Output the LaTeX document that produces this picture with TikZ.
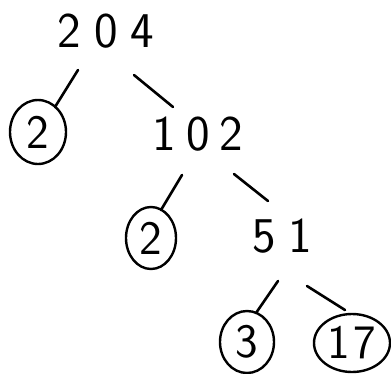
\documentclass[tikz,border=0pt]{standalone}
\usetikzlibrary{shapes.geometric}
\begin{document}
\begin{tikzpicture}[x=1pt,y=1pt,
  num/.style={inner sep=0pt, font=\sffamily\fontsize{50}{50}\selectfont},
  ring/.style={ellipse, draw, line width=2.4pt, inner sep=0pt, font=\sffamily\fontsize{48}{48}\selectfont},
  edge/.style={line width=2.6pt, line cap=round}]
\useasboundingbox (0,0) rectangle (391,-373);
\node[num] (n204) at (106,-31) {2\kern13pt0\kern13pt4};
\node[ring, minimum width=56pt, minimum height=64pt] (c1) at (38,-132) {2};
\node[num] (n102) at (198,-134) {1\kern10pt0\kern10pt2};
\node[ring, minimum width=50pt, minimum height=62pt] (c2) at (151,-238) {2};
\node[num] (n51) at (282,-236) {5\kern12pt1};
\node[ring, minimum width=54pt, minimum height=62pt] (c3) at (247,-342) {3};
\node[ring, minimum width=76pt, minimum height=58pt] (c17) at (352,-343) {1\kern4pt7};
\draw[edge] ([shift={(-28,-39)}]n204.center) -- ([shift={(17,25)}]c1.center);
\draw[edge] ([shift={(28,-44)}]n204.center) -- ([shift={(-25,27)}]n102.center);
\draw[edge] ([shift={(-16,-41)}]n102.center) -- ([shift={(10,28)}]c2.center);
\draw[edge] ([shift={(36,-40)}]n102.center) -- ([shift={(-14,35)}]n51.center);
\draw[edge] ([shift={(-4,-45)}]n51.center) -- ([shift={(9,29)}]c3.center);
\draw[edge] ([shift={(25,-50)}]n51.center) -- ([shift={(-7,33)}]c17.center);
\end{tikzpicture}
\end{document}
